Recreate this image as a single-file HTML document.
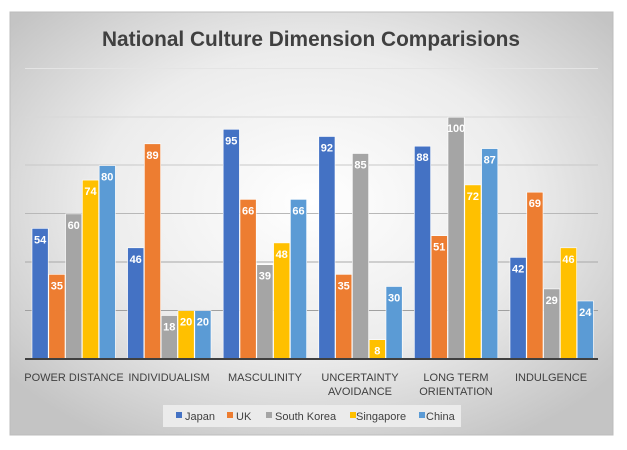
<!DOCTYPE html>
<html><head><meta charset="utf-8"><style>
html,body{margin:0;padding:0;background:#fff;}
svg{display:block;font-family:"Liberation Sans",sans-serif;}
</style></head><body>
<svg width="627" height="450" viewBox="0 0 627 450" xmlns="http://www.w3.org/2000/svg">
<defs>
<radialGradient id="bg" cx="0.5" cy="0.45" r="0.65">
<stop offset="0" stop-color="#ffffff"/><stop offset="0.55" stop-color="#ececec"/><stop offset="1" stop-color="#c4c4c4"/>
</radialGradient>
</defs>
<rect x="10" y="12" width="603" height="423" fill="url(#bg)" stroke="#bdbdbd" stroke-width="1"/>
<text x="102" y="46" font-size="21" font-weight="bold" fill="#404040" textLength="418" lengthAdjust="spacingAndGlyphs">National Culture Dimension Comparisions</text>
<g stroke="#c8c8c8" stroke-width="1">
<line x1="25" x2="598" y1="68.5" y2="68.5" stroke="#e4e4e4"/>
<line x1="25" x2="598" y1="117" y2="117" stroke="#d8d8d8"/>
<line x1="25" x2="598" y1="165" y2="165"/>
<line x1="25" x2="598" y1="213.5" y2="213.5" stroke="#b8b8b8"/>
<line x1="25" x2="598" y1="262" y2="262" stroke="#a8a8a8"/>
<line x1="25" x2="598" y1="310.5" y2="310.5" stroke="#a0a0a0"/>
</g>
<g id="bars" font-size="11" font-weight="bold" fill="#fff" text-anchor="middle"></g>
<line x1="25" x2="598" y1="359" y2="359" stroke="#404040" stroke-width="2"/>
<g font-size="11" fill="#404040" text-anchor="middle">
<text x="74" y="381">POWER DISTANCE</text>
<text x="169" y="381">INDIVIDUALISM</text>
<text x="265" y="381">MASCULINITY</text>
<text x="360" y="381">UNCERTAINTY</text>
<text x="360" y="395">AVOIDANCE</text>
<text x="456" y="381">LONG TERM</text>
<text x="456" y="395">ORIENTATION</text>
<text x="551" y="381">INDULGENCE</text>
</g>
<rect x="163" y="405" width="298" height="22" fill="#ebebeb"/>
<g font-size="11" fill="#404040">
<rect x="176" y="412" width="6" height="6" fill="#4472C4"/><text x="185" y="420">Japan</text>
<rect x="227" y="412" width="6" height="6" fill="#ED7D31"/><text x="236" y="420">UK</text>
<rect x="266" y="412" width="6" height="6" fill="#A5A5A5"/><text x="275" y="420">South Korea</text>
<rect x="350" y="412" width="6" height="6" fill="#FFC000"/><text x="356" y="420">Singapore</text>
<rect x="419" y="412" width="6" height="6" fill="#5B9BD5"/><text x="426" y="420">China</text>
</g>
</svg>
<script>
var data=[[54,35,60,74,80],[46,89,18,20,20],[95,66,39,48,66],[92,35,85,8,30],[88,51,100,72,87],[42,69,29,46,24]];
var cols=["#4472C4","#ED7D31","#A5A5A5","#FFC000","#5B9BD5"];
var g=document.getElementById("bars"),s="";
for(var i=0;i<6;i++)for(var j=0;j<5;j++){
var v=data[i][j],x=32+i*95.6+j*16.8,h=v*2.418,y=359-h;
s+='<rect x="'+x.toFixed(1)+'" y="'+y.toFixed(1)+'" width="16.2" height="'+h.toFixed(1)+'" fill="'+cols[j]+'" stroke="#fff" stroke-width="0.6"/>';
s+='<text x="'+(x+8.1).toFixed(1)+'" y="'+(y+15).toFixed(1)+'">'+v+'</text>';
}
g.innerHTML=s;
</script>
</body></html>
